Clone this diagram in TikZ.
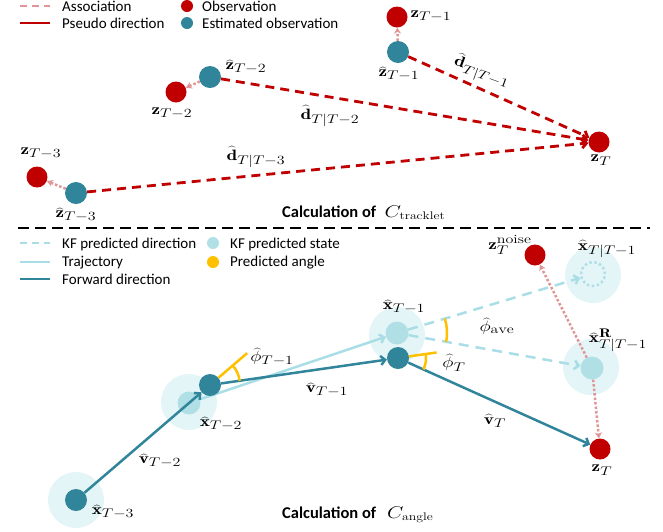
\RequirePackage{fix-cm}
\documentclass[tikz,border=0pt]{standalone}
\usepackage{fontspec}
\newfontfamily\carlito{Carlito}
\usetikzlibrary{arrows.meta,calc,angles}
\DeclareMathSizes{15}{15}{12.5}{10}
\DeclareMathSizes{17}{17}{11}{9}
\newcommand{\mylab}[1]{\scalebox{1.28}[1]{$#1$}}
\newcommand{\mytitlemath}[1]{\scalebox{1.25}[1]{$#1$}}
\definecolor{obsred}{RGB}{192,0,0}
\definecolor{estteal}{RGB}{49,133,155}
\definecolor{kfcyan}{RGB}{176,224,230}
\definecolor{halocyan}{RGB}{228,245,247}
\definecolor{trajcyan}{RGB}{170,222,230}
\definecolor{angorange}{RGB}{255,192,0}
\definecolor{assocpink}{RGB}{224,150,150}
\pgfdeclarelayer{halolayer}
\pgfdeclarelayer{midlayer}
\pgfsetlayers{halolayer,midlayer,main}
\begin{document}
\begin{tikzpicture}[x=1pt,y=-1pt,
  obs/.style={circle,fill=obsred,minimum size=21pt,inner sep=0pt},
  est/.style={circle,fill=estteal,minimum size=22pt,inner sep=0pt},
  halo/.style={circle,fill=halocyan,minimum size=56pt,inner sep=0pt},
  kfs/.style={circle,fill=kfcyan,minimum size=23pt,inner sep=0pt},
  kfdot/.style={circle,draw=kfcyan,line width=2.5pt,dash pattern=on 2.5pt off 2.5pt,minimum size=24pt,inner sep=0pt},
  lbl/.style={font=\fontsize{15}{18}\selectfont,inner sep=0pt},
  legtxt/.style={font=\carlito\fontsize{15}{18}\selectfont,anchor=base west,inner sep=0pt},
  titletxt/.style={font=\fontsize{17}{20}\selectfont,anchor=base west,inner sep=0pt},
  legdot/.style={circle,minimum size=12pt,inner sep=0pt},
  pseudo/.style={draw=obsred,line width=2.8pt,dash pattern=on 9pt off 6pt,-{Straight Barb[length=4.5pt,width=9pt]}},
  assoc/.style={draw=assocpink,line width=2.5pt,dash pattern=on 2.5pt off 2pt,-{Stealth[length=6pt,width=7pt]}},
  forward/.style={draw=estteal,line width=2.5pt,-{Straight Barb[length=4.5pt,width=9pt]}},
  traj/.style={draw=trajcyan,line width=2.5pt,-{Straight Barb[length=4.5pt,width=9pt]}},
  kfdir/.style={draw=trajcyan,line width=2.5pt,dash pattern=on 10pt off 7pt,-{Straight Barb[length=4.5pt,width=9pt]}},
  angline/.style={draw=angorange,line width=2.5pt},
  angarc/.style={draw=angorange,line width=2.5pt}
]
\useasboundingbox (0,0) rectangle (663,531);

% ---------- top legend ----------
\draw[draw=assocpink,line width=2.5pt,dash pattern=on 7pt off 5pt] (20,6) -- (50,6);
\node[legtxt] (lgA) at (62,11) {Association};
\draw[draw=obsred,line width=2.5pt] (20,23) -- (50,23);
\node[legtxt] (lgP) at (62,28) {Pseudo direction};
\node[legdot,fill=obsred] (ldO) at (187,6) {};
\node[legtxt] (lgO) at (202,11) {Observation};
\node[legdot,fill=estteal] (ldE) at (187,23) {};
\node[legtxt] (lgE) at (202,28) {Estimated observation};

% ---------- top nodes ----------
\node[obs] (z1) at (397,17) {};
\node[est] (ze1) at (398,52) {};
\node[est] (ze2) at (210,77) {};
\node[obs] (z2) at (176,92) {};
\node[obs] (z3) at (37,177) {};
\node[est] (ze3) at (76,193) {};
\node[obs] (zT) at (599,142) {};

\draw[assoc] (ze1) -- (z1);
\draw[assoc] (ze2) -- (z2);
\draw[assoc] (ze3) -- (z3);
\draw[pseudo] (ze1) -- (zT);
\draw[pseudo] (ze2) -- (zT);
\draw[pseudo] (ze3) -- (zT);

\node[lbl] (Lz1) at (431,16) {\mylab{\mathbf{z}_{T-1}}};
\node[lbl] (Lze1) at (399,74) {\mylab{\widehat{\mathbf{z}}_{T-1}}};
\node[lbl] (Lze2) at (246,67) {\mylab{\widehat{\mathbf{z}}_{T-2}}};
\node[lbl] (Lz2) at (172,113) {\mylab{\mathbf{z}_{T-2}}};
\node[lbl] (Lz3) at (41,153) {\mylab{\mathbf{z}_{T-3}}};
\node[lbl] (Lze3) at (76,215) {\mylab{\widehat{\mathbf{z}}_{T-3}}};
\node[lbl] (LzT) at (601,160) {\mylab{\mathbf{z}_{T}}};
\node[lbl,rotate=-20] (Ld1) at (482,72) {\mylab{\widehat{\mathbf{d}}_{T|T-1}}};
\node[lbl] (Ld2) at (330,116) {\mylab{\widehat{\mathbf{d}}_{T|T-2}}};
\node[lbl] (Ld3) at (256,157) {\mylab{\widehat{\mathbf{d}}_{T|T-3}}};

\node[titletxt] (T1) at (282,217) {{\carlito\bfseries\fontsize{16.5}{20}\selectfont Calculation of}\hspace{0.5em}\mytitlemath{C_{\mathrm{tracklet}}}};

% ---------- separator ----------
\draw[line width=2pt,dash pattern=on 11pt off 6pt] (18,228) -- (650,228);

% ---------- bottom legend ----------
\draw[draw=trajcyan,line width=2.5pt,dash pattern=on 7pt off 5pt] (20,243) -- (50,243);
\node[legtxt] (lgK) at (62,248) {KF predicted direction};
\draw[draw=trajcyan,line width=2.5pt] (20,262) -- (50,262);
\node[legtxt] (lgT) at (62,266) {Trajectory};
\draw[draw=estteal,line width=2.5pt] (20,279) -- (50,279);
\node[legtxt] (lgF) at (62,284) {Forward direction};
\node[legdot,fill=kfcyan] (ldK) at (213,243) {};
\node[legtxt] (lgS) at (230,248) {KF predicted state};
\node[legdot,fill=angorange] (ldA) at (213,262) {};
\node[legtxt] (lgAn) at (230,266) {Predicted angle};

% ---------- bottom nodes ----------
\begin{pgfonlayer}{halolayer}
\node[halo] (h3) at (76,500) {};
\node[halo] (h2) at (189,402) {};
\node[halo] (h1) at (397,335) {};
\node[halo] (hTT) at (593,275) {};
\node[halo] (hR) at (591,367) {};
\end{pgfonlayer}

\node[kfs] (k2) at (189,403) {};
\node[kfs] (k1) at (397,333) {};
\node[kfdot] (kTT) at (593,274) {};
\node[kfs] (kR) at (592,368) {};

\node[est] (e3) at (76,500) {};
\node[est] (e2) at (210,385) {};
\node[est] (e1) at (398,358) {};
\node[obs] (zN) at (535,255) {};
\node[obs] (zTb) at (600,449) {};

\begin{pgfonlayer}{midlayer}
\draw[traj] (k2) -- (k1);
\draw[kfdir] (k1) -- (kTT);
\draw[kfdir] (k1) -- (kR);
\end{pgfonlayer}

\draw[forward] (e3) -- (e2);
\draw[forward] (e2) -- (e1);
\draw[forward] (e1) -- (zTb);
\draw[assoc] (kR) -- (zN);
\draw[assoc] (kR) -- (zTb);

% angles
\coordinate (x2ext) at ($(e2.center)!-49pt!(e3.center)$);
\coordinate (x1ext) at ($(e1.center)!-39pt!(e2.center)$);
\draw[angline] (e2) -- (x2ext);
\draw[angline] (e1) -- (x1ext);
\pic[angarc,angle radius=30pt] {angle = e1--e2--x2ext};
\pic[angarc,angle radius=28pt] {angle = zTb--e1--x1ext};
\pic[angarc,angle radius=50pt] {angle = kR--k1--kTT};

% labels
\node[lbl] (Lx3) at (113,512) {\mylab{\widehat{\mathbf{x}}_{T-3}}};
\node[lbl] (Lx2) at (221,424) {\mylab{\widehat{\mathbf{x}}_{T-2}}};
\node[lbl] (Lx1) at (404,307) {\mylab{\widehat{\mathbf{x}}_{T-1}}};
\node[lbl] (Lv2) at (160,461) {\mylab{\widehat{\mathbf{v}}_{T-2}}};
\node[lbl] (Lv1) at (327,390) {\mylab{\widehat{\mathbf{v}}_{T-1}}};
\node[lbl] (LvT) at (495,421) {\mylab{\widehat{\mathbf{v}}_{T}}};
\node[lbl] (Lp1) at (272,357) {\mylab{\widehat{\phi}_{T-1}}};
\node[lbl] (LpT) at (454,363) {\mylab{\widehat{\phi}_{T}}};
\node[lbl] (Lpa) at (497,326) {\mylab{\widehat{\phi}_{\mathrm{ave}}}};
\node[lbl] (LzN) at (510,245) {\mylab{\mathbf{z}_{T}^{\mathrm{noise}}}};
\node[lbl] (LxTT) at (607,249) {\mylab{\widehat{\mathbf{x}}_{T|T-1}}};
\node[lbl] (LxR) at (618,340) {\mylab{\widehat{\mathbf{x}}^{\mathbf{R}}_{T|T-1}}};
\node[lbl] (LzTb) at (602,470) {\mylab{\mathbf{z}_{T}}};

\node[titletxt] (T2) at (282,518) {{\carlito\bfseries\fontsize{16.5}{20}\selectfont Calculation of}\hspace{0.65em}\mytitlemath{C_{\mathrm{angle}}}};
\end{tikzpicture}
\end{document}
